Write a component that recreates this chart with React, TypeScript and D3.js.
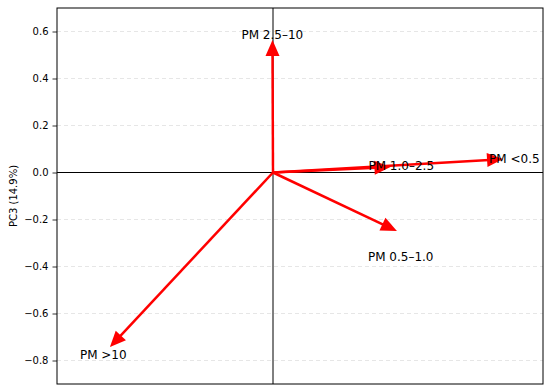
import React, { useEffect, useRef } from "react";
import * as d3 from "d3";

// loadings (PC1 vs PC3)
const variables = ["PM <0.5", "PM 0.5–1.0", "PM 1.0–2.5", "PM 2.5–10", "PM >10"];
const pc1 = [0.852, 0.459, 0.435, -0.002, -0.604];
const pc3 = [0.057, -0.249, 0.023, 0.564, -0.743];
const yTicks = [-0.8, -0.6, -0.4, -0.2, 0.0, 0.2, 0.4, 0.6];

export default function App() {
  const svgRef = useRef<SVGSVGElement>(null);

  useEffect(() => {
    if (!svgRef.current) return;
    const svg = d3.select(svgRef.current);
    svg.selectAll("*").remove();

    const W = 550;
    const H = 392;
    const margin = { top: 8, right: 7, bottom: 8, left: 57 };
    const width = W - margin.left - margin.right;
    const height = H - margin.top - margin.bottom;

    const x = d3.scaleLinear().domain([-0.8, 1.0]).range([0, width]);
    const y = d3.scaleLinear().domain([-0.9, 0.7]).range([height, 0]);

    const g = svg
      .append("g")
      .attr("transform", `translate(${margin.left},${margin.top})`);

    // dashed horizontal grid
    g.append("g")
      .selectAll("line")
      .data(yTicks)
      .join("line")
      .attr("x1", 0)
      .attr("x2", width)
      .attr("y1", (d) => y(d))
      .attr("y2", (d) => y(d))
      .attr("stroke", "#e0e0e0")
      .attr("stroke-width", 0.8)
      .attr("stroke-dasharray", "4,3");

    // y axis
    const yAxis = d3
      .axisLeft(y)
      .tickValues(yTicks)
      .tickSize(4.5)
      .tickPadding(4)
      .tickFormat((d) => d3.format(".1f")(d as number).replace("-", "−"));
    const ya = g.append("g").call(yAxis);
    ya.select(".domain").remove();
    ya.selectAll("text")
      .attr("font-family", "DejaVu Sans")
      .attr("font-size", 10)
      .attr("fill", "#000");
    ya.selectAll("line").attr("stroke", "#000").attr("stroke-width", 0.8);

    // zero lines
    g.append("line")
      .attr("x1", 0)
      .attr("x2", width)
      .attr("y1", y(0))
      .attr("y2", y(0))
      .attr("stroke", "#000")
      .attr("stroke-width", 1);
    g.append("line")
      .attr("x1", x(0))
      .attr("x2", x(0))
      .attr("y1", 0)
      .attr("y2", height)
      .attr("stroke", "#000")
      .attr("stroke-width", 1);

    // arrows
    const headLen = 16;
    const headW = 14;
    variables.forEach((name, i) => {
      const x0 = x(0);
      const y0 = y(0);
      const x1 = x(pc1[i]);
      const y1 = y(pc3[i]);
      const len = Math.hypot(x1 - x0, y1 - y0);
      const ux = (x1 - x0) / len;
      const uy = (y1 - y0) / len;
      const bx = x1 - ux * headLen;
      const by = y1 - uy * headLen;
      g.append("line")
        .attr("x1", x0)
        .attr("y1", y0)
        .attr("x2", bx + ux * 2)
        .attr("y2", by + uy * 2)
        .attr("stroke", "#ff0000")
        .attr("stroke-width", 2.5);
      const pts = [
        [x1, y1],
        [bx - uy * (headW / 2), by + ux * (headW / 2)],
        [bx + uy * (headW / 2), by - ux * (headW / 2)],
      ];
      g.append("polygon")
        .attr("points", pts.map((p) => p.join(",")).join(" "))
        .attr("fill", "#ff0000");
    });

    // labels, nudged off the arrow tips
    const nudge: Record<string, [number, number]> = {
      "PM <0.5": [-14, 0],
      "PM 0.5–1.0": [-29, 26],
      "PM 1.0–2.5": [-22, -1],
      "PM 2.5–10": [-31, -5],
      "PM >10": [-30, 8],
    };
    variables.forEach((name, i) => {
      const [dx, dy] = nudge[name];
      g.append("text")
        .attr("x", x(pc1[i]) + dx)
        .attr("y", y(pc3[i]) + dy)
        .attr("dy", "0.35em")
        .attr("font-family", "DejaVu Sans")
        .attr("font-size", 12)
        .attr("fill", "#000")
        .text(name);
    });

    // frame
    g.append("rect")
      .attr("width", width)
      .attr("height", height)
      .attr("fill", "none")
      .attr("stroke", "#000")
      .attr("stroke-width", 1);

    // y label
    svg
      .append("text")
      .attr("transform", `translate(13,${margin.top + height / 2}) rotate(-90)`)
      .attr("text-anchor", "middle")
      .attr("dy", "0.35em")
      .attr("font-family", "DejaVu Sans")
      .attr("font-size", 10)
      .attr("fill", "#000")
      .text("PC3 (14.9%)");
  }, []);

  return (
    <svg
      ref={svgRef}
      width={550}
      height={392}
      style={{ position: "absolute", left: 0, top: 0, background: "#fff" }}
    />
  );
}
